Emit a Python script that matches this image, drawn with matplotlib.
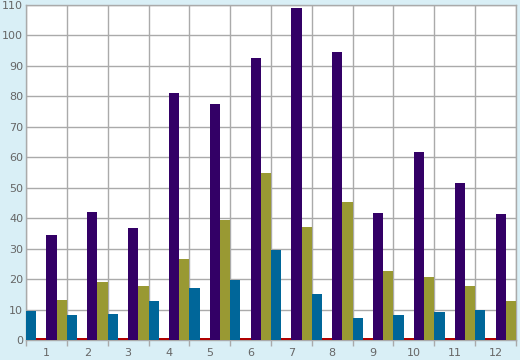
import matplotlib
matplotlib.use("Agg")
import matplotlib.pyplot as plt
import numpy as np

categories = ["1", "2", "3", "4", "5", "6", "7", "8", "9", "10", "11", "12"]
blue_vals = [9.5, 8.2, 8.6, 12.8, 17.1, 19.7, 29.6, 15.1, 7.2, 8.2, 9.2, 9.9]
red_vals = [0.5] * 12
purple_vals = [34.5, 42.1, 36.9, 81.1, 77.5, 92.6, 109.1, 94.6, 41.8, 61.6, 51.7, 41.5]
olive_vals = [13.1, 19.0, 17.7, 26.6, 39.5, 54.7, 37.2, 45.4, 22.7, 20.7, 17.7, 12.8]

series = [
    (blue_vals, "#006699"),
    (red_vals, "#b00000"),
    (purple_vals, "#330066"),
    (olive_vals, "#999933"),
]
yticks = list(range(0, 111, 10))

bg = "#d9eff6"
grid = "#aaaaaa"
txt = "#666666"

fig = plt.figure(figsize=(5.2, 3.6), dpi=100, facecolor=bg)
ax = fig.add_axes([26/520, 20/360, 490/520, 335/360])
ax.set_facecolor("white")

x = np.arange(1, len(categories) + 1)
w = 0.25
for i, (vals, col) in enumerate(series):
    ax.bar(x - 0.375 + i * w, vals, width=w, color=col, zorder=3, linewidth=0)

ax.set_xlim(0.5, len(categories) + 0.5)
ax.set_ylim(0, 110)
ax.set_yticks(yticks)
ax.set_xticks(x)
ax.set_xticklabels(categories)
ax.set_xticks(np.arange(0.5, len(categories) + 1, 1.0), minor=True)
ax.tick_params(axis="x", which="major", length=0, pad=6, labelsize=8, labelcolor=txt)
ax.tick_params(axis="x", which="minor", length=4, color=grid, width=1.0)
ax.tick_params(axis="y", length=0, pad=2, labelsize=8, labelcolor=txt)
ax.grid(True, axis="y", color=grid, linewidth=1.0, zorder=1)
ax.grid(True, axis="x", which="minor", color=grid, linewidth=1.0, zorder=1)
for s in ax.spines.values():
    s.set_color(grid)
    s.set_linewidth(1.0)
    s.set_zorder(2)

fig.savefig("out.png", dpi=100, facecolor=bg)
